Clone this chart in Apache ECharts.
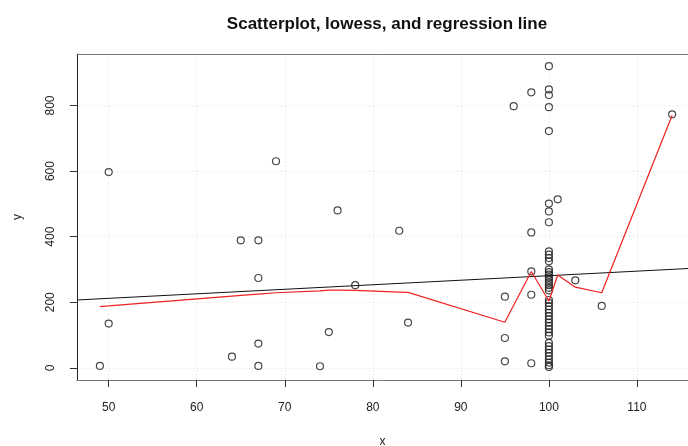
<!DOCTYPE html>
<html>
<head>
<meta charset="utf-8">
<script src="https://cdn.jsdelivr.net/npm/echarts@6/dist/echarts.min.js"></script>
<style>
  html, body { margin: 0; padding: 0; background: #fff; }
  #main { width: 688px; height: 446px; }
</style>
</head>
<body>
<div id="main"></div>
<script>
// observed points
var pointX = [49, 50, 50, 64, 65, 67, 67, 67, 67, 69, 74, 75, 76, 78, 83, 84,
    95, 95, 95, 96, 98, 98, 98, 98, 98,
    100, 100, 100, 100, 100, 100, 100, 100,
    100, 100, 100, 100, 100, 100, 100, 100, 100, 100, 100, 100, 100,
    100, 100, 100, 100, 100, 100, 100, 100, 100, 100, 100, 100,
    100, 100, 100, 100, 100, 100, 100, 100, 100,
    101, 103, 106, 114];
var pointY = [6, 597, 135, 34, 389, 389, 274, 74, 6, 630, 5, 109, 480, 252, 418, 138,
    217, 91, 20, 798, 840, 413, 294, 223, 14,
    920, 849, 832, 795, 722, 501, 477, 444,
    355, 345, 335, 325, 300, 292, 284, 276, 268, 260, 252, 244, 236,
    207, 198, 188, 178, 168, 158, 148, 138, 128, 118, 108, 98,
    76, 66, 56, 46, 36, 26, 16, 8, 3,
    514, 267, 189, 773];

// lowess fit
var lowessX = [49, 50, 64, 65, 67, 69, 74, 75, 76, 78, 83, 84, 95, 96, 98, 100, 101, 103, 106, 114];
var lowessY = [187, 189, 219, 221, 225, 229, 235, 237, 237, 236, 231, 230, 139, 191, 294, 204, 283, 246, 229, 770];

// regression line end points
var regX = [46.4, 116.6];
var regY = [207, 304];

var xTicks = [50, 60, 70, 80, 90, 100, 110];
var yTicks = [0, 200, 400, 600, 800];

function pairs(xs, ys) {
    return xs.map(function (x, i) { return [x, ys[i]]; });
}

var chart = echarts.init(document.getElementById('main'));
var font = 'Liberation Sans, Arial, sans-serif';
var boxColor = '#777';

chart.setOption({
    animation: false,
    title: {
        text: 'Scatterplot, lowess, and regression line',
        left: 382,
        textAlign: 'center',
        top: 11,
        textStyle: { fontSize: 17, fontWeight: 'bold', color: '#111', fontFamily: font }
    },
    grid: {
        left: 77,
        right: 0,
        top: 54,
        bottom: 66,
        outerBoundsMode: 'none'
    },
    xAxis: [
        {
            type: 'value',
            min: 46.4,
            max: 115.8,
            name: 'x',
            nameLocation: 'middle',
            nameGap: 56,
            nameTextStyle: { fontSize: 12, color: '#222', fontFamily: font },
            axisLine: { show: true, onZero: false, lineStyle: { color: boxColor } },
            axisTick: { show: true, inside: false, length: 7, customValues: xTicks, lineStyle: { color: '#333' } },
            axisLabel: { customValues: xTicks, margin: 22, fontSize: 12, color: '#222', fontFamily: font },
            splitLine: { show: true, lineStyle: { color: '#ddd', type: [1, 3], width: 1 } }
        },
        {
            type: 'value',
            position: 'top',
            min: 46.4,
            max: 115.8,
            axisLine: { show: true, onZero: false, lineStyle: { color: boxColor } },
            axisTick: { show: false },
            axisLabel: { show: false },
            splitLine: { show: false }
        }
    ],
    yAxis: {
        type: 'value',
        min: -37,
        max: 957,
        name: 'y',
        nameLocation: 'middle',
        nameGap: 53,
        nameRotate: 90,
        nameTextStyle: { fontSize: 12, color: '#222', fontFamily: font },
        axisLine: { show: true, onZero: false, lineStyle: { color: '#222' } },
        axisTick: { show: true, inside: false, length: 7, customValues: yTicks, lineStyle: { color: '#333' } },
        axisLabel: { customValues: yTicks, rotate: 90, margin: 20, fontSize: 12, color: '#222', fontFamily: font },
        splitLine: { show: true, lineStyle: { color: '#ddd', type: [1, 3], width: 1 } }
    },
    series: [
        {
            type: 'scatter',
            data: pairs(pointX, pointY),
            symbol: 'circle',
            symbolSize: 7,
            itemStyle: { color: 'rgba(0,0,0,0)', borderColor: '#1a1a1a', borderWidth: 1.2 },
            z: 2
        },
        {
            type: 'line',
            data: pairs(regX, regY),
            showSymbol: false,
            lineStyle: { color: '#111', width: 1 },
            z: 3
        },
        {
            type: 'line',
            data: pairs(lowessX, lowessY),
            showSymbol: false,
            lineStyle: { color: '#f02020', width: 1.2 },
            z: 4
        }
    ]
});
</script>
</body>
</html>
